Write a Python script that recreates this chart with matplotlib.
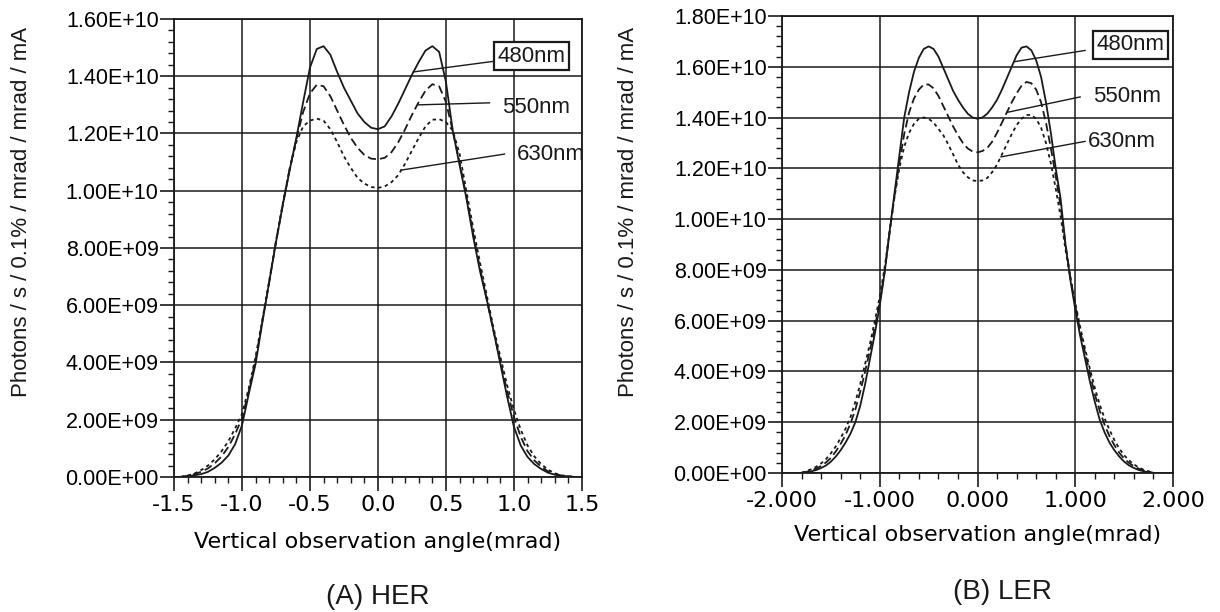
import numpy as np
import matplotlib
matplotlib.use("Agg")
import matplotlib.pyplot as plt
from matplotlib.ticker import MultipleLocator, FuncFormatter

plt.rcParams['font.family'] = ['Liberation Sans', 'DejaVu Sans']
plt.rcParams['axes.unicode_minus'] = False
plt.rcParams['lines.scale_dashes'] = False

INK = '#1a1a1a'

# ---- (A) HER : photons, in units of 1e9 ----
her_x = np.round(np.arange(-1.45, 1.46, 0.05), 2)
her_480 = [0.0, 0.03, 0.06, 0.1, 0.18, 0.32, 0.5, 0.75, 1.15, 1.8,
           2.9, 3.95, 5.4, 6.8, 8.2, 9.5, 10.7, 11.85, 13.1, 14.3,
           14.95, 15.05, 14.75, 14.15, 13.6, 13.15, 12.7, 12.4, 12.2, 12.15,
           12.25, 12.6, 13.05, 13.55, 14.05, 14.5, 14.9, 15.05, 14.85, 13.8,
           12.1, 10.9, 9.75, 8.4, 7.2, 6.2, 5.1, 3.95, 2.8, 1.75,
           1.1, 0.7, 0.45, 0.28, 0.15, 0.08, 0.04, 0.02, 0.0]
her_550 = [0.0, 0.04, 0.1, 0.18, 0.3, 0.48, 0.72, 1.05, 1.5, 2.05,
           3.0, 4.1, 5.45, 6.8, 8.2, 9.5, 10.75, 11.8, 12.75, 13.4,
           13.7, 13.65, 13.3, 12.8, 12.3, 11.85, 11.5, 11.25, 11.12, 11.1,
           11.15, 11.35, 11.7, 12.15, 12.65, 13.1, 13.5, 13.72, 13.65, 13.1,
           12.1, 11.0, 9.8, 8.5, 7.3, 6.2, 5.1, 4.05, 3.0, 2.1,
           1.4, 0.9, 0.58, 0.36, 0.2, 0.1, 0.05, 0.02, 0.0]
her_630 = [0.01, 0.05, 0.12, 0.24, 0.4, 0.62, 0.9, 1.25, 1.7, 2.2,
           3.1, 4.2, 5.5, 6.85, 8.25, 9.55, 10.75, 11.7, 12.25, 12.45,
           12.52, 12.45, 12.15, 11.7, 11.2, 10.8, 10.45, 10.25, 10.13, 10.1,
           10.15, 10.3, 10.55, 10.95, 11.4, 11.85, 12.25, 12.48, 12.5, 12.4,
           12.1, 11.3, 10.0, 8.7, 7.5, 6.35, 5.2, 4.2, 3.2, 2.35,
           1.65, 1.1, 0.72, 0.45, 0.26, 0.13, 0.06, 0.02, 0.0]

# ---- (B) LER ----
ler_x = np.round(np.arange(-1.8, 1.81, 0.05), 2)
ler_480 = [0.0, 0.03, 0.07, 0.12, 0.2, 0.3, 0.45, 0.65, 0.9, 1.2,
           1.55, 2.0, 2.65, 3.5, 4.5, 5.5, 6.6, 7.9, 9.5, 11.0,
           12.5, 14.0, 15.0, 15.8, 16.35, 16.7, 16.8, 16.7, 16.4, 15.95,
           15.5, 15.05, 14.7, 14.4, 14.15, 14.0, 13.95,
           14.0, 14.15, 14.4, 14.7, 15.1, 15.55, 16.0, 16.45, 16.75, 16.8,
           16.65, 16.25, 15.6, 14.6, 13.4, 12.0, 10.8, 9.0, 7.6, 6.45,
           5.4, 4.5, 3.6, 2.8, 2.1, 1.6, 1.2, 0.9, 0.65, 0.45,
           0.3, 0.2, 0.12, 0.07, 0.03, 0.0]
ler_550 = [0.0, 0.05, 0.1, 0.18, 0.28, 0.42, 0.6, 0.85, 1.15, 1.5,
           1.95, 2.5, 3.2, 4.0, 4.85, 5.75, 6.75, 7.95, 9.45, 10.9,
           12.2, 13.35, 14.2, 14.75, 15.1, 15.3, 15.3, 15.15, 14.85, 14.45,
           14.05, 13.65, 13.3, 13.0, 12.78, 12.66, 12.63,
           12.68, 12.8, 13.05, 13.4, 13.8, 14.2, 14.6, 14.95, 15.25, 15.4,
           15.35, 15.1, 14.6, 13.8, 12.8, 11.7, 10.5, 9.0, 7.7, 6.6,
           5.6, 4.75, 3.9, 3.1, 2.45, 1.9, 1.45, 1.1, 0.8, 0.57,
           0.4, 0.27, 0.17, 0.1, 0.05, 0.01]
ler_630 = [0.02, 0.08, 0.15, 0.25, 0.38, 0.55, 0.78, 1.05, 1.38, 1.75,
           2.2, 2.8, 3.5, 4.3, 5.1, 6.0, 6.95, 8.1, 9.5, 10.85,
           12.0, 12.85, 13.4, 13.75, 13.95, 14.0, 13.95, 13.8, 13.55, 13.3,
           12.95, 12.55, 12.15, 11.85, 11.65, 11.52, 11.5,
           11.52, 11.62, 11.85, 12.15, 12.55, 12.95, 13.35, 13.7, 13.95, 14.1,
           14.1, 13.95, 13.6, 13.0, 12.2, 11.2, 10.1, 8.8, 7.7, 6.7,
           5.75, 4.9, 4.1, 3.35, 2.7, 2.15, 1.7, 1.3, 0.97, 0.7,
           0.5, 0.34, 0.22, 0.13, 0.07, 0.03]

wavelengths = ['480nm', '550nm', '630nm']
styles = [dict(linestyle='-'),
          dict(linestyle=(0, (6, 3))),
          dict(linestyle=(0, (2.5, 2.5)))]

ylabel = 'Photons / s / 0.1% / mrad / mrad / mA'
xlabel = 'Vertical observation angle(mrad)'

fig = plt.figure(figsize=(12.2, 6.12), dpi=100)


def panel(rect, x, curves, xlim, xmajor, xminor, ymax, xfmt, notes, xpad):
    ax = fig.add_axes(rect)
    for y, st in zip(curves, styles):
        ax.plot(x, np.array(y) * 1e9, color=INK, lw=1.3, **st)
    ax.set_xlim(*xlim)
    ax.set_ylim(0, ymax)
    ax.xaxis.set_major_locator(MultipleLocator(xmajor))
    ax.xaxis.set_minor_locator(MultipleLocator(xminor))
    ax.yaxis.set_major_locator(MultipleLocator(2e9))
    ax.yaxis.set_minor_locator(MultipleLocator(4e8))
    ax.yaxis.set_major_formatter(FuncFormatter(lambda v, p: f"{v:.2E}"))
    ax.xaxis.set_major_formatter(FuncFormatter(lambda v, p: xfmt.format(v)))
    ax.grid(which='major', color=INK, lw=1.1)
    for s in ax.spines.values():
        s.set_color(INK)
        s.set_linewidth(1.3)
    ax.tick_params(which='major', length=10, width=1.2, color=INK, direction='out')
    ax.tick_params(which='minor', length=4.5, width=1.0, color=INK, direction='out')
    ax.tick_params(axis='y', labelsize=15.5, pad=1)
    ax.tick_params(axis='x', labelsize=15, pad=3)
    for lab in ax.get_xticklabels():
        lab.set_family('DejaVu Sans')
        lab.set_fontsize(16)
    ax.set_xlabel(xlabel, fontsize=16, family='DejaVu Sans', labelpad=xpad)
    for name, (tx, ty), (sx, sy), (ex, ey) in notes:
        ax.plot([sx, ex], [sy * 1e9, ey * 1e9], color=INK, lw=1.0)
        kw = {}
        if name == '480nm':
            kw['bbox'] = dict(boxstyle='square,pad=0.15', fc='white', ec=INK, lw=1.6)
        ax.text(tx, ty * 1e9, name, fontsize=16, ha='left', va='center',
                color=INK, **kw)
    return ax


her_notes = [('480nm', (0.88, 14.7), (0.85, 14.52), (0.26, 14.15)),
             ('550nm', (0.91, 12.9), (0.82, 13.07), (0.30, 13.0)),
             ('630nm', (1.02, 11.26), (0.93, 11.28), (0.17, 10.72))]
ler_notes = [('480nm', (1.22, 16.86), (1.10, 16.64), (0.38, 16.2)),
             ('550nm', (1.18, 14.83), (1.05, 14.81), (0.30, 14.2)),
             ('630nm', (1.13, 13.06), (1.10, 13.06), (0.24, 12.45))]

panel([0.1426, 0.2206, 0.3344, 0.7484], her_x, [her_480, her_550, her_630],
      (-1.5, 1.5), 0.5, 0.1, 1.6e10, '{:.1f}', her_notes, 12)
panel([0.641, 0.227, 0.3205, 0.747], ler_x, [ler_480, ler_550, ler_630],
      (-2, 2), 1.0, 0.2, 1.8e10, '{:.3f}', ler_notes, 10)

fig.text(22 / 1220, 1 - 212 / 612, ylabel, rotation=90, fontsize=16,
         ha='center', va='center', color=INK)
fig.text(628 / 1220, 1 - 212 / 612, ylabel, rotation=90, fontsize=16,
         ha='center', va='center', color=INK)
fig.text(378 / 1220, 1 - 597 / 612, '(A) HER', fontsize=20, ha='center',
         va='center', color=INK)
fig.text(1002 / 1220, 1 - 592 / 612, '(B) LER', fontsize=20, ha='center',
         va='center', color=INK)

fig.savefig('out.png', dpi=100, facecolor='white')
